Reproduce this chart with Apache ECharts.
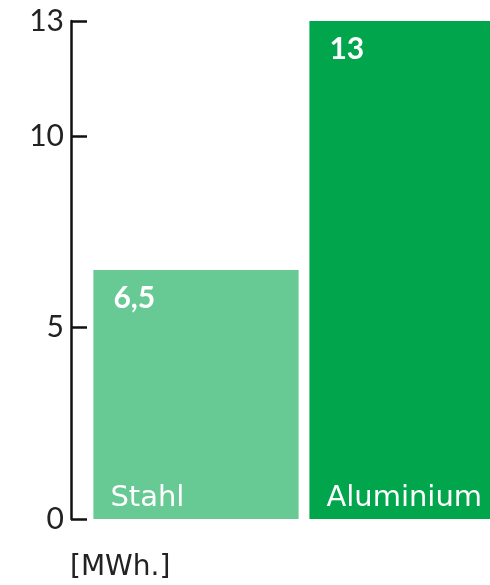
<!DOCTYPE html>
<html><head><meta charset="utf-8">
<script src="https://cdn.jsdelivr.net/npm/echarts@6/dist/echarts.min.js"></script>
<style>html,body{margin:0;padding:0;background:#fff}#c{width:490px;height:585px}</style>
</head><body><div id="c"></div>
<script>
const categories = ['Stahl', 'Aluminium'];
const values = [6.5, 13];
const barColors = ['#67C994', '#00A54C'];
const yTicks = [0, 5, 10, 13];
const unitLabel = '[MWh.]';

const chart = echarts.init(document.getElementById('c'));
const FONT = 'Lato';
const WIDE = 'DejaVu Sans';
chart.setOption({
  animation: false,
  grid: { left: 88, width: 432, top: 21, bottom: 66, outerBoundsMode: 'none', containLabel: false },
  xAxis: {
    type: 'category', data: categories,
    axisLine: { show: false }, axisTick: { show: false }, axisLabel: { show: false }
  },
  yAxis: {
    type: 'value', min: 0, max: 13, offset: 17,
    axisLine: { show: true, lineStyle: { color: '#111', width: 2.5 } },
    axisTick: { show: true, inside: true, length: 16, customValues: yTicks, lineStyle: { color: '#111', width: 2.5 } },
    axisLabel: { customValues: yTicks, color: '#222', fontSize: 30, fontFamily: FONT, margin: 7 },
    splitLine: { show: false }
  },
  graphic: [{
    type: 'text', left: 70, top: 554,
    style: { text: unitLabel, fontSize: 28, fontFamily: WIDE, fill: '#222' }
  }],
  series: [{
    type: 'bar', barWidth: '95%',
    data: values.map((v, i) => ({ value: v, itemStyle: { color: barColors[i] } })),
    label: {
      show: true, position: 'insideTopLeft', distance: 0,
      padding: [13, 0, 0, 20],
      formatter: p => String(p.value).replace('.', ','),
      color: '#fff', fontSize: 30, fontWeight: 'bold', fontFamily: FONT
    }
  }, {
    type: 'bar', barWidth: '95%', barGap: '-100%',
    data: values.map(v => v),
    itemStyle: { color: 'rgba(0,0,0,0)' },
    label: {
      show: true, position: 'insideBottomLeft', distance: 0,
      padding: [0, 0, 6, 17],
      formatter: p => p.name,
      color: '#fff', fontSize: 29, fontFamily: WIDE
    }
  }]
});
</script></body></html>
